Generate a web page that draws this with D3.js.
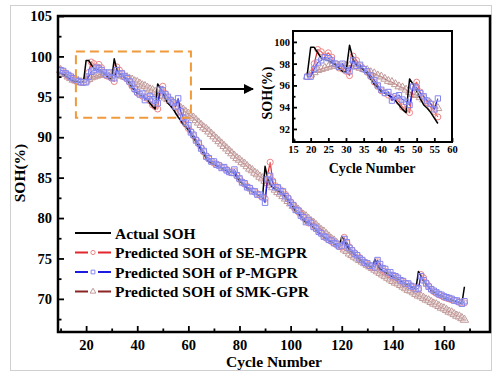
<!DOCTYPE html>
<html>
<head>
<meta charset="utf-8">
<script src="https://cdn.jsdelivr.net/npm/d3@7"></script>
<style>
  body { margin: 0; background: #fff; }
  svg text { font-family: "Liberation Serif", "Times New Roman", serif; font-weight: bold; fill: #000; }
</style>
</head>
<body>
<svg id="chart" width="500" height="377"></svg>
<script>
// x categories: cycle numbers 10..168
const cycles = d3.range(10, 169);

const actualSOH = [
  98.0, 97.8, 97.6, 97.4, 97.2, 97.0, 96.9, 96.8, 96.8, 96.9,
  99.5, 99.5, 99.0, 98.5, 98.4, 98.3, 98.1, 97.9, 97.6, 97.3,
  97.2, 99.7, 98.4, 97.9, 97.7, 97.4, 97.1, 96.6, 96.1, 95.8,
  95.4, 95.3, 95.1, 94.9, 94.6, 94.2, 93.8, 93.5, 96.6, 96.1,
  95.5, 94.8, 94.2, 93.9, 93.5, 93.0, 92.5, 92.1, 91.6, 91.3,
  90.9, 90.4, 89.9, 89.4, 88.9, 88.4, 87.9, 87.4, 87.0, 86.8,
  86.7, 86.5, 86.3, 86.2, 86.0, 85.8, 85.5, 85.9, 85.5, 85.0,
  84.6, 84.3, 84.0, 83.7, 83.5, 83.3, 83.1, 82.9, 82.7, 82.5,
  86.4, 85.0, 84.2, 83.8, 83.6, 83.4, 83.2, 83.0, 82.6, 82.2,
  81.8, 81.3, 80.8, 80.6, 80.2, 79.8, 79.4, 79.6, 79.2, 78.8,
  78.5, 78.2, 77.9, 77.6, 77.4, 77.2, 77.0, 76.8, 76.6, 76.4,
  77.7, 77.3, 76.5, 76.1, 75.8, 75.5, 75.2, 74.9, 74.6, 74.4,
  74.2, 74.0, 73.9, 74.9, 74.2, 73.7, 73.5, 73.3, 73.1, 72.9,
  72.7, 72.6, 72.4, 72.2, 72.0, 71.8, 71.7, 71.5, 71.3, 71.2,
  73.4, 72.8, 72.2, 71.8, 71.4, 71.0, 70.8, 70.6, 70.4, 70.3,
  70.1, 70.0, 69.9, 69.8, 69.7, 69.6, 69.5, 69.4, 71.5
];

const seMgpr = [
  98.3, 98.1, 97.8, 97.6, 97.4, 97.2, 97.0, 96.9, 96.8, 96.8,
  96.9, 98.0, 99.3, 99.1, 98.7, 99.0, 98.6, 98.0, 97.6, 97.5,
  97.3, 96.9, 98.7, 98.3, 97.8, 97.5, 97.2, 96.8, 96.3, 95.9,
  95.5, 95.3, 95.1, 94.9, 94.8, 94.5, 94.0, 93.8, 93.5, 95.9,
  96.3, 95.4, 94.9, 94.4, 94.0, 93.6, 93.1, 92.6, 92.0, 91.6,
  91.1, 90.7, 90.2, 89.7, 89.2, 88.7, 88.2, 87.7, 87.3, 87.0,
  86.8, 86.7, 86.5, 86.3, 86.2, 86.0, 85.7, 85.6, 85.8, 85.2,
  84.8, 84.5, 84.2, 83.9, 83.7, 83.4, 83.2, 83.0, 82.8, 82.6,
  82.4, 85.3, 86.9, 84.6, 84.0, 83.7, 83.5, 83.2, 82.9, 82.5,
  82.0, 81.6, 81.1, 80.8, 80.5, 80.1, 79.7, 79.4, 79.5, 79.0,
  78.7, 78.4, 78.1, 77.8, 77.5, 77.3, 77.1, 76.9, 76.7, 76.5,
  76.4, 77.6, 76.9, 76.4, 76.0, 75.7, 75.4, 75.1, 74.8, 74.5,
  74.3, 74.1, 73.9, 73.9, 74.6, 74.0, 73.6, 73.4, 73.2, 73.0,
  72.8, 72.7, 72.5, 72.3, 72.1, 71.9, 71.8, 71.6, 71.4, 71.3,
  71.2, 73.0, 72.6, 72.0, 71.6, 71.2, 70.9, 70.7, 70.5, 70.4,
  70.2, 70.1, 70.0, 69.9, 69.8, 69.7, 69.6, 69.5, 69.5
];

const pMgpr = [
  98.3, 98.2, 97.9, 97.7, 97.5, 97.3, 97.1, 96.9, 96.8, 96.8,
  96.8, 97.5, 98.1, 98.3, 98.6, 98.5, 98.3, 98.0, 97.7, 98.0,
  97.4, 97.3, 98.3, 97.8, 97.9, 97.5, 97.3, 96.9, 96.5, 96.0,
  95.6, 95.3, 95.4, 94.6, 95.0, 95.1, 94.7, 94.5, 94.2, 95.9,
  95.8, 95.3, 95.0, 94.6, 94.3, 93.8, 94.8, 93.2, 92.4, 91.8,
  91.5, 90.6, 90.3, 89.6, 89.3, 88.6, 88.3, 87.6, 87.4, 87.0,
  87.0, 86.6, 86.5, 86.2, 86.3, 85.9, 85.7, 85.6, 86.0, 85.3,
  84.9, 84.4, 84.3, 83.8, 83.7, 83.3, 83.3, 82.9, 82.9, 82.6,
  81.9, 84.8, 85.2, 84.4, 83.8, 83.8, 83.3, 83.3, 82.7, 82.4,
  81.9, 81.6, 81.0, 80.9, 80.3, 80.1, 79.5, 79.7, 79.4, 78.9,
  78.7, 78.3, 78.1, 77.7, 77.6, 77.3, 77.2, 76.9, 76.8, 76.5,
  76.6, 77.4, 77.0, 76.3, 76.0, 75.6, 75.4, 75.0, 74.8, 74.5,
  74.4, 74.1, 74.1, 73.9, 74.8, 74.3, 73.8, 73.7, 73.3, 73.3,
  72.9, 72.8, 72.6, 72.3, 72.2, 71.9, 71.9, 71.6, 71.5, 71.2,
  71.3, 72.8, 72.3, 71.9, 71.5, 71.2, 71.0, 70.8, 70.6, 70.5,
  70.3, 70.2, 70.1, 70.0, 69.8, 69.8, 69.6, 69.4, 69.7
];

const smkGpr = [
  98.3, 98.0, 97.8, 97.5, 97.3, 97.1, 97.0, 96.9, 96.8, 96.8,
  97.0, 97.2, 97.4, 97.5, 97.6, 97.7, 97.8, 97.8, 97.8, 97.8,
  97.8, 97.8, 97.8, 97.7, 97.6, 97.5, 97.4, 97.2, 97.1, 96.9,
  96.8, 96.6, 96.4, 96.3, 96.1, 95.9, 95.8, 95.6, 95.4, 95.2,
  95.1, 94.9, 94.7, 94.5, 94.3, 94.1, 93.9, 93.6, 93.4, 93.1,
  92.9, 92.6, 92.4, 92.1, 91.8, 91.5, 91.2, 91.0, 90.7, 90.4,
  90.1, 89.8, 89.5, 89.2, 88.9, 88.6, 88.3, 88.0, 87.7, 87.4,
  87.2, 86.9, 86.7, 86.4, 86.1, 85.9, 85.6, 85.4, 85.1, 84.9,
  84.6, 84.3, 84.1, 83.8, 83.5, 83.2, 83.0, 82.7, 82.4, 82.1,
  81.8, 81.5, 81.3, 81.0, 80.7, 80.4, 80.2, 79.9, 79.6, 79.4,
  79.1, 78.8, 78.5, 78.3, 78.0, 77.7, 77.4, 77.2, 76.9, 76.6,
  76.4, 76.1, 75.9, 75.6, 75.4, 75.2, 75.0, 74.8, 74.6, 74.4,
  74.2, 74.0, 73.8, 73.6, 73.4, 73.2, 73.0, 72.8, 72.6, 72.4,
  72.2, 72.0, 71.9, 71.7, 71.5, 71.3, 71.1, 71.0, 70.8, 70.6,
  70.4, 70.3, 70.1, 69.9, 69.8, 69.6, 69.4, 69.3, 69.1, 68.9,
  68.8, 68.6, 68.4, 68.3, 68.1, 67.9, 67.8, 67.6, 67.4
];

const seriesNames = ["Actual SOH", "Predicted SOH of SE-MGPR", "Predicted SOH of P-MGPR", "Predicted SOH of SMK-GPR"];

const xTicks = [20, 40, 60, 80, 100, 120, 140, 160];
const xMinorTicks = [10, 30, 50, 70, 90, 110, 130, 150, 170];
const yTicks = [70, 75, 80, 85, 90, 95, 100, 105];
const yMinorTicks = [67.5, 72.5, 77.5, 82.5, 87.5, 92.5, 97.5, 102.5];

// zoomed window [first cycle, last cycle] and dashed box (cycles, SOH)
const insetCycles = [19, 56];
const zoomBox = [16, 61, 92.4, 100.6];
const insetXTicks = [15, 20, 25, 30, 35, 40, 45, 50, 55, 60];
const insetYTicks = [92, 94, 96, 98, 100];
const insetYMinor = [91, 93, 95, 97, 99];

(function(){

  const svg = d3.select("#chart");

  // styles per series (same order as seriesNames)
  const styles = [
    {line: "#000", width: 1.5, symbol: null},
    {line: "#e3262b", width: 1.2, symbol: d3.symbolCircle, mark: "#ee8484"},
    {line: "#1c1ce0", width: 1.2, symbol: d3.symbolSquare, mark: "#8585ee"},
    {line: "#8b2424", width: 1.2, symbol: d3.symbolTriangle, mark: "#c29a9a"}
  ];
  const seriesValues = [actualSOH, seMgpr, pMgpr, smkGpr];
  const series = seriesValues.map((vals, i) => ({
    name: seriesNames[i],
    style: styles[i],
    values: cycles.map((c, j) => ({cycle: c, soh: vals[j]}))
  }));
  // drawing order: SMK-GPR, SE-MGPR, actual, P-MGPR on top
  const drawOrder = [3, 1, 0, 2];

  // outer grey border of the figure
  svg.append("rect")
    .attr("x", 10.5).attr("y", 5.5)
    .attr("width", 481).attr("height", 365)
    .attr("fill", "none").attr("stroke", "#cfcfcf");

  // ---------- main chart ----------
  const x = d3.scaleLinear().domain([9, 178]).range([58, 490]);
  const y = d3.scaleLinear().domain([65.9, 105]).range([332, 16]);

  drawPanel(svg, x, y, series, {
    xTicks, xMinorTicks, yTicks, yMinorTicks,
    major: 6, minor: 3.5, frame: 2.5, font: 14.5, pad: 8, ypad: 6,
    markSize: 30
  });

  svg.append("text")
    .attr("x", 274).attr("y", 367)
    .attr("text-anchor", "middle")
    .style("font-size", "15.5px")
    .text("Cycle Number");

  svg.append("text")
    .attr("transform", "translate(25,173) rotate(-90)")
    .attr("text-anchor", "middle")
    .style("font-size", "15.5px")
    .text("SOH(%)");

  // dashed zoom box + arrow
  svg.append("rect")
    .attr("x", x(zoomBox[0])).attr("y", y(zoomBox[3]))
    .attr("width", x(zoomBox[1]) - x(zoomBox[0]))
    .attr("height", y(zoomBox[2]) - y(zoomBox[3]))
    .attr("fill", "none")
    .attr("stroke", "#f09a3c")
    .attr("stroke-width", 2)
    .attr("stroke-dasharray", "9,5");

  svg.append("defs").append("marker")
    .attr("id", "arrow")
    .attr("viewBox", "0 0 10 10")
    .attr("refX", 9).attr("refY", 5)
    .attr("markerWidth", 5).attr("markerHeight", 5)
    .attr("orient", "auto")
    .append("path")
      .attr("d", "M0,0L10,5L0,10z")
      .attr("fill", "#000");

  svg.append("line")
    .attr("x1", 200).attr("x2", 253)
    .attr("y1", 89).attr("y2", 89)
    .attr("stroke", "#000")
    .attr("stroke-width", 2)
    .attr("marker-end", "url(#arrow)");

  // legend
  const legend = svg.append("g").attr("transform", "translate(75,233)");
  const rows = legend.selectAll("g")
    .data(series)
    .enter()
    .append("g")
      .attr("transform", (d, i) => "translate(0," + (i * 19.5) + ")");

  rows.each(function(d) {
    const g = d3.select(this);
    if (d.style.symbol) {
      g.append("line").attr("x1", 0).attr("x2", 13).attr("y1", 0).attr("y2", 0)
        .attr("stroke", d.style.line).attr("stroke-width", 2);
      g.append("line").attr("x1", 23).attr("x2", 36).attr("y1", 0).attr("y2", 0)
        .attr("stroke", d.style.line).attr("stroke-width", 2);
      g.append("path")
        .attr("transform", "translate(18,0)")
        .attr("d", d3.symbol().type(d.style.symbol).size(14)())
        .attr("fill", "none")
        .attr("stroke", d.style.mark)
        .attr("stroke-width", 1);
    } else {
      g.append("line").attr("x1", 0).attr("x2", 36).attr("y1", 0).attr("y2", 0)
        .attr("stroke", d.style.line).attr("stroke-width", 2);
    }
  });

  rows.append("text")
    .attr("x", 40).attr("y", 5.5)
    .style("font-size", "15.5px")
    .text(d => d.name);

  // ---------- inset ----------
  const ix = d3.scaleLinear().domain([15, 60]).range([293, 452]);
  const iy = d3.scaleLinear().domain([90.8, 101]).range([142, 31]);

  const insetSeries = series.map(s => ({
    name: s.name,
    style: s.style,
    values: s.values.filter(d => d.cycle >= insetCycles[0] && d.cycle <= insetCycles[1])
  }));

  svg.append("rect")
    .attr("x", 293).attr("y", 31).attr("width", 159).attr("height", 111)
    .attr("fill", "#fff");

  drawPanel(svg, ix, iy, insetSeries, {
    xTicks: insetXTicks, xMinorTicks: [], yTicks: insetYTicks, yMinorTicks: insetYMinor,
    major: 4, minor: 2.5, frame: 2, font: 10.5, pad: 4, ypad: 3,
    markSize: 28
  });

  svg.append("text")
    .attr("x", 372).attr("y", 173)
    .attr("text-anchor", "middle")
    .style("font-size", "14px")
    .text("Cycle Number");

  svg.append("text")
    .attr("transform", "translate(272,93) rotate(-90)")
    .attr("text-anchor", "middle")
    .style("font-size", "14px")
    .text("SOH(%)");

  function drawPanel(root, xs, ys, data, o) {
    const g = root.append("g");
    const [x0, x1] = xs.range();
    const [y0, y1] = ys.range();

    const line = d3.line()
      .x(d => xs(d.cycle))
      .y(d => ys(d.soh));

    drawOrder.forEach(i => {
      const s = data[i];
      g.append("path")
        .datum(s.values)
        .attr("d", line)
        .attr("fill", "none")
        .attr("stroke", s.style.line)
        .attr("stroke-width", s.style.width)
        .attr("stroke-linejoin", "round");

      if (!s.style.symbol) return;
      // hollow markers, partly see-through
      g.append("g").selectAll("path")
        .data(s.values)
        .enter()
        .append("path")
          .attr("transform", d => "translate(" + xs(d.cycle) + "," + ys(d.soh) + ")")
          .attr("d", d3.symbol().type(s.style.symbol).size(o.markSize)())
          .attr("fill", "#fff")
          .attr("fill-opacity", 0.25)
          .attr("stroke", s.style.mark)
          .attr("stroke-width", 1);
    });

    // axes with inward ticks
    g.append("g")
      .attr("transform", "translate(0," + y0 + ")")
      .call(d3.axisBottom(xs).tickValues(o.xTicks).tickSizeInner(-o.major).tickSizeOuter(0).tickPadding(o.pad));
    g.append("g")
      .attr("transform", "translate(0," + y0 + ")")
      .call(d3.axisBottom(xs).tickValues(o.xMinorTicks).tickSizeInner(-o.minor).tickSizeOuter(0).tickFormat(""));
    g.append("g")
      .attr("transform", "translate(" + x0 + ",0)")
      .call(d3.axisLeft(ys).tickValues(o.yTicks).tickSizeInner(-o.major).tickSizeOuter(0).tickPadding(o.ypad));
    g.append("g")
      .attr("transform", "translate(" + x0 + ",0)")
      .call(d3.axisLeft(ys).tickValues(o.yMinorTicks).tickSizeInner(-o.minor).tickSizeOuter(0).tickFormat(""));

    g.selectAll(".domain").remove();
    g.selectAll(".tick line").attr("stroke", "#000").attr("stroke-width", 1.8);
    g.selectAll(".tick text")
      .attr("fill", "#000")
      .style("font-family", '"Liberation Serif", "Times New Roman", serif')
      .style("font-weight", "bold")
      .style("font-size", o.font + "px");

    g.append("rect")
      .attr("x", x0).attr("y", y1)
      .attr("width", x1 - x0).attr("height", y0 - y1)
      .attr("fill", "none")
      .attr("stroke", "#000")
      .attr("stroke-width", o.frame);
  }

})();
</script>
</body>
</html>
